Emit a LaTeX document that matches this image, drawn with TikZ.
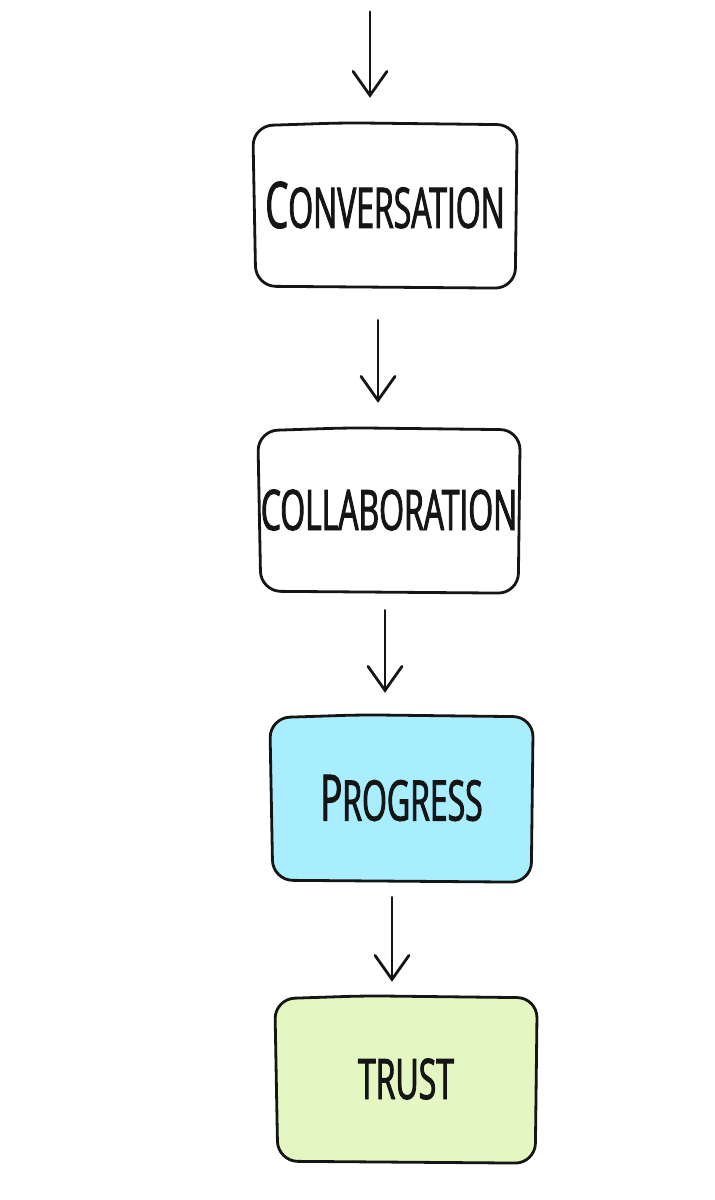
\documentclass[tikz,border=0pt]{standalone}
\usepackage{fontspec}
\newfontfamily\hand[FakeStretch=0.57,FakeBold=1.6]{Open Sans}
\usetikzlibrary{arrows.meta,calc,backgrounds}
\definecolor{pblue}{HTML}{A8EEFF}
\definecolor{tgreen}{HTML}{E4F7C2}
\definecolor{ink}{HTML}{151515}
\newcommand{\capsmall}{\fontsize{56}{60}\selectfont}
\newcommand{\capbig}{\fontsize{64}{60}\selectfont}
\tikzset{
  flowbox/.style={inner sep=0pt, font=\hand\capsmall, text=ink},
  outl/.style={draw=ink, line width=2.8pt, line join=round},
  arr/.style={draw=ink, line width=2.8pt, line cap=round, -{Straight Barb[length=24pt,width=34pt,line cap=round]}},
}
\newcommand{\wobblebox}[2]{%
  \begin{scope}[on background layer]
  \draw[outl, fill=#2, rounded corners=20pt]
    ($(#1.north)+(-40,1)$) -- ($(#1.north east)+(0,3)$) -- ($(#1.south east)+(-2,0)$)
    -- ($(#1.south west)+(3,-2)$) -- ($(#1.north west)+(0,4)$) -- cycle;
  \end{scope}}
\begin{document}
\begin{tikzpicture}[x=1pt,y=-1pt]
\path[use as bounding box] (0,0) rectangle (715,1200);
\node[flowbox, minimum width=264pt, minimum height=166pt] (c1) at (385,205) {{\capbig C}ONVERSATION};
\node[flowbox, minimum width=262pt, minimum height=166pt] (c2) at (389,510) {COLLABORATION};
\node[flowbox, minimum width=263pt, minimum height=168pt] (c3) at (401.5,798) {{\capbig P}ROGRESS};
\node[flowbox, minimum width=262pt, minimum height=168pt] (c4) at (406,1079) {TRUST};
\wobblebox{c1}{white}
\wobblebox{c2}{white}
\wobblebox{c3}{pblue}
\wobblebox{c4}{tgreen}
\draw[arr] ($(c1.north)+(-15,-110)$) -- ($(c1.north)+(-15,-24)$);
\draw[arr] ($(c1.south)+(-7,32)$) -- ($(c2.north)+(-11,-24)$);
\draw[arr] ($(c2.south)+(-4,17)$) -- ($(c3.north)+(-16.5,-21)$);
\draw[arr] ($(c3.south)+(-9.5,15)$) -- ($(c4.north)+(-14,-13)$);
\end{tikzpicture}
\end{document}
